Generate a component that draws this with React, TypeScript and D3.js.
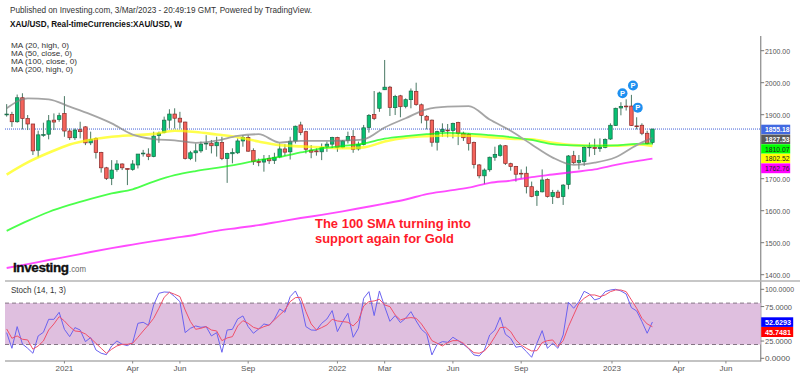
import React from "react";
import * as d3 from "d3";

const W = 800, H = 376;

// weekly candles, first week index 0 = 19 Oct 2020
const opens = [1900,1901,1878,1953,1888,1871,1789,1836,1839,1883,1885,1904,1849,1828,1853,1862,1812,1826,1782,1734,1701,1729,1746,1732,1729,1743,1778,1777,1769,1835,1845,1883,1902,1889,1877,1763,1781,1787,1809,1811,1803,1813,1763,1778,1781,1818,1829,1788,1754,
1752,1763,1757,1768,1793,1784,1818,1868,1847,1789,1787,1784,1800,1808,1829,1798,1819,1832,1793,1807,1860,1901,1920,1978,1986,1922,1959,1926,1947,1973,1931,1895,1883,1814,1847,1852,1851,1876,1842,1839,1813,1743,1709,1728,1767,1773,1803,1747,1738,1717,1717,
1675,1648,1659,1698,1644,1658,1644,1682,1772,1751,1753,1797,1798,1794,1798,1824,1866,1921,1927,1927,1865,1867,1842,1813];
const closes = [1902,1878,1953,1888,1871,1787,1837,1838,1881,1877,1897,1849,1828,1852,1847,1812,1823,1782,1734,1701,1727,1746,1734,1729,1746,1777,1780,1769,1833,1842,1883,1902,1889,1877,1763,1781,1787,1808,1811,1803,1813,1763,1779,1782,1818,1829,1786,1753,1751,
1760,1756,1767,1793,1783,1817,1864,1844,1792,1783,1784,1798,1808,1829,1798,1818,1832,1792,1807,1859,1898,1888,1968,1986,1923,1957,1925,1947,1974,1932,1898,1883,1814,1847,1854,1850,1873,1842,1828,1810,1744,1709,1727,1767,1776,1803,1748,1738,1714,1715,1675,
1644,1660,1696,1644,1657,1642,1680,1771,1750,1757,1798,1799,1794,1799,1823,1867,1920,1926,1925,1866,1863,1842,1810,1855];
const highs = [1933,1909,1963,1967,1899,1871,1850,1875,1899,1904,1906,1958,1857,1857,1878,1864,1847,1829,1784,1737,1758,1758,1748,1732,1758,1777,1790,1795,1847,1847,1894,1917,1920,1909,1878,1787,1810,1816,1836,1821,1831,1831,1781,1795,1826,1836,1836,1795,1763,
1774,1774,1781,1810,1808,1831,1866,1878,1850,1805,1795,1810,1816,1831,1831,1821,1847,1852,1816,1868,1902,1974,1972,2071,1990,1962,1962,1951,1982,2000,1935,1899,1885,1850,1873,1871,1875,1878,1847,1842,1816,1746,1732,1769,1800,1808,1805,1750,1740,1729,1738,
1691,1665,1729,1701,1665,1665,1683,1774,1787,1774,1802,1813,1825,1826,1826,1873,1922,1939,1948,1962,1892,1873,1850,1856];
const lows = [1894,1862,1875,1854,1852,1774,1767,1831,1823,1852,1878,1831,1821,1821,1826,1805,1805,1763,1719,1696,1680,1722,1727,1680,1725,1732,1769,1758,1767,1812,1842,1857,1857,1857,1760,1758,1753,1781,1790,1779,1769,1758,1687,1748,1777,1800,1784,1743,1739,
1722,1746,1746,1764,1772,1760,1810,1836,1779,1764,1772,1758,1784,1795,1784,1795,1810,1781,1788,1804,1844,1883,1909,1977,1896,1899,1892,1920,1920,1928,1873,1854,1800,1788,1831,1829,1826,1805,1818,1788,1732,1701,1683,1722,1756,1769,1743,1725,1691,1701,1654,
1642,1615,1657,1641,1621,1639,1618,1667,1746,1729,1740,1769,1774,1784,1795,1821,1865,1898,1913,1865,1854,1836,1807,1807];

// moving averages, read every fourth week
const maWeeks = [0,4,8,12,16,20,24,28,32,36,40,44,48,52,56,60,64,68,72,76,80,84,88,92,96,100,104,108,112,116,120,123];
const ma20 = [1920,1951,1948,1925,1901,1873,1838,1824,1820,1812,1819,1834,1839,1813,1818,1818,1819,1823,1860,1889,1917,1925,1927,1885,1850,1807,1766,1743,1750,1767,1805,1827.53];
const ma50 = [1713,1751,1781,1807,1822,1831,1836,1840,1850,1846,1838,1830,1816,1805,1801,1798,1795,1798,1816,1828,1833,1835,1834,1830,1825,1823,1812,1805,1803,1803,1807,1802.52];
const ma100 = [1537,1568,1596,1618,1637,1654,1667,1691,1711,1724,1734,1745,1758,1768,1782,1795,1802,1810,1825,1833,1839,1843,1841,1836,1830,1821,1808,1804,1803,1804,1809,1810.07];
const ma200 = [1421,1433,1446,1458,1471,1483,1494,1505,1515,1525,1537,1546,1555,1566,1577,1587,1598,1610,1622,1635,1652,1662,1672,1687,1694,1705,1713,1721,1729,1743,1755,1762.76];

const stochK = [37.2,14.5,45.9,20.8,14.5,7.3,32.4,37.7,56.5,56.5,66.7,42,31.4,44.5,41,24.2,30,12.1,7.3,5.3,17.9,25.1,20.3,18.4,22.7,50.7,52.2,47.8,77.3,94.2,96.1,95.7,89.4,82.1,37.2,43.5,46.9,44.9,45.9,32.4,37.2,8.7,41,42,57,61.4,45.9,36.3,42.5,49.8,47.8,
57,71.5,66.7,89.4,97.6,81.2,45.9,41,40.6,50.7,57,69.1,38.7,53.2,65.2,30.5,43.5,87,96.6,61.9,97.6,74.9,53.6,61.9,51.7,58,67.6,54.1,42,35.3,4.9,20.3,24.2,23.2,30.5,25.6,20.3,14,4.9,3.4,12.1,33.8,41,59.4,34.8,29,16,17.4,9.7,1.5,21.8,
40.1,14.5,21.8,14.5,33.8,81.2,72.5,82.1,97.1,93.2,84.6,87,96.6,99,100,97.6,93.2,73.4,68.6,53.2,36.3,52.63];
const stochD = [42.5,29,32.4,27.6,26.6,13.1,17.9,25.1,41,49.8,60.4,54.1,45.9,39.6,38.7,35.3,29,21.8,14.5,7.3,13.1,17.9,20.3,20.3,21.8,30.5,39.6,48.3,58,72.5,88.4,95.7,92.8,89.4,70,53.2,42,43.5,45.9,41,39.6,25.6,29.5,31.4,46.9,54.6,50.7,44.9,42.5,45.9,48.3,
55.6,62.8,70,82.1,87.9,88.4,67.6,49.8,41,44.5,48.3,56.5,54.1,53.2,52.2,46.9,54.6,75.9,82.1,83.1,85.5,77.3,74.9,62.8,55.6,58,59,58,49.8,38.7,25.6,21.8,17.9,22.7,25.6,25.6,21.8,14.5,8.2,7.3,10.6,19.3,31.4,44.5,45,38.7,26.6,19.3,14.5,10.6,11.1,
22.7,25.6,26.6,16.9,25.6,45.9,62.8,79.7,87,91.8,91.8,89.4,91.8,96.6,99,99,96.6,84.6,72.5,58,49.8,45.75];

// 1800.00 is covered by the last-value tags in the reference
const priceTicks = [2100,2000,1900,1700,1600,1500,1400];
const stochTicks = [100,75,25,0];
const dateTicks: [number,string][] = [[11,"2021"],[24,"Apr"],[33,"Jun"],[46,"Sep"],[63,"2022"],[72,"Mar"],[85,"Jun"],[98,"Sep"],[115.3,"2023"],[128,"Apr"],[137,"Jun"]];
const pricePins: [number,number][] = [[117.3,1967],[119.3,1991],[120.2,1922]];
const maLegend = ["MA (20, high, 0)","MA (50, close, 0)","MA (100, close, 0)","MA (200, high, 0)"];
const maLegendWidths = [58,61,66,62];
const maLegendBase = [47.5,55.8,64,72.4];
const priceTags: [string,number,number,string,string][] = [
  ["1855.18",124.7,9.6,"#4169e1","#fff"],
  ["1827.53",134.6,9.4,"#5a5a5a","#fff"],
  ["1810.07",144.2,9.4,"#00ff00","#222"],
  ["1802.52",153.8,9.4,"#ffff00","#222"],
  ["1762.76",163.4,9.8,"#ff00ff","#222"],
];
const stochTags: [string,number,number,string][] = [["52.6293",317.3,9.6,"#0000ff"],["45.7481",327,10,"#ff0000"]];

const FONT = "'Liberation Sans', Arial, sans-serif";
const axisX = 760.7;

const x = d3.scaleLinear().domain([0,123]).range([6.67,652.42]);
const y = d3.scaleLinear().domain([2100,1400]).range([50.7,274.7]);
const ys = d3.scaleLinear().domain([100,0]).range([289.3,358.3]);

const maLine = d3.line<number>().x((_,i)=>x(maWeeks[i])).y(d=>y(d)).curve(d3.curveMonotoneX);
const stLine = d3.line<number>().x((_,i)=>x(i)).y(d=>ys(d));

export default function App() {
  return (
    <svg width={W} height={H} viewBox={`0 0 ${W} ${H}`} style={{position:"absolute",left:0,top:0,background:"#fff"}} fontFamily={FONT}>
      <text x={10} y={13} fontSize={9} fill="#333" textLength={302} lengthAdjust="spacingAndGlyphs">Published on Investing.com, 3/Mar/2023 - 20:49:19 GMT, Powered by TradingView.</text>
      <text x={10} y={27} fontSize={9} fontWeight="bold" fill="#111" textLength={172} lengthAdjust="spacingAndGlyphs">XAU/USD, Real-timeCurrencies:XAU/USD, W</text>
      {maLegend.map((t,i)=>(
        <text key={t} x={11} y={maLegendBase[i]} fontSize={7.2} fill="#333" textLength={maLegendWidths[i]} lengthAdjust="spacingAndGlyphs">{t}</text>
      ))}

      {/* price axis */}
      <line x1={axisX} x2={axisX} y1={36} y2={361.5} stroke="#999" strokeWidth={1.4}/>
      {priceTicks.map(t=>(
        <g key={t}>
          <line x1={axisX} x2={axisX+3.5} y1={y(t)} y2={y(t)} stroke="#777" strokeWidth={1}/>
          <text x={765} y={y(t)+3} fontSize={8} fill="#555" textLength={25} lengthAdjust="spacingAndGlyphs">{t.toFixed(2)}</text>
        </g>
      ))}

      <line x1={5} x2={axisX} y1={y(1855.18)} y2={y(1855.18)} stroke="#3f5fd8" strokeWidth={1} strokeDasharray="1 1"/>

      {/* candles */}
      {opens.map((o,i)=>{
        const c = closes[i];
        const up = c>=o;
        const top = y(Math.max(o,c)), bot = y(Math.min(o,c));
        return (
          <g key={i}>
            <line x1={x(i)} x2={x(i)} y1={y(highs[i])} y2={y(lows[i])} stroke="#4a7864" strokeWidth={1}/>
            <rect x={x(i)-1.75} width={3.5} y={top} height={Math.max(bot-top,0.8)}
              fill={up?"#07c072":"#f4635b"} stroke={up?"#1a6a48":"#8c2a2a"} strokeWidth={0.7}/>
          </g>
        );
      })}

      {/* moving averages */}
      <g opacity={0.7} fill="none">
        <path d={maLine(ma200)!} stroke="#ff00ff" strokeWidth={1.9}/>
        <path d={maLine(ma50)!} stroke="#ffff00" strokeWidth={2.6}/>
        <path d={maLine(ma100)!} stroke="#00ff00" strokeWidth={1.8}/>
        <path d={maLine(ma20)!} stroke="#808080" strokeWidth={1.8}/>
      </g>

      {pricePins.map(([wk,p],i)=>(
        <g key={i}>
          <circle cx={x(wk)} cy={y(p)} r={5} fill="#1e90f0"/>
          <text x={x(wk)} y={y(p)+2.7} fontSize={7.5} fontWeight="bold" fill="#fff" textAnchor="middle">P</text>
        </g>
      ))}

      {priceTags.map(([t,top,h,bg,fg])=>(
        <g key={t}>
          <rect x={axisX+0.5} y={top} width={29} height={h} fill={bg}/>
          <text x={765} y={top+h/2+2.8} fontSize={7.5} fontWeight={fg==="#fff"?"bold":"normal"} fill={fg} textLength={24.5} lengthAdjust="spacingAndGlyphs">{t}</text>
        </g>
      ))}

      <text x={315} y={228} fontSize={13} fontWeight="bold" fill="#ff1a2a" textLength={156} lengthAdjust="spacingAndGlyphs">The 100 SMA turning into</text>
      <text x={315} y={243} fontSize={13} fontWeight="bold" fill="#ff1a2a" textLength={139} lengthAdjust="spacingAndGlyphs">support again for Gold</text>

      <text x={13} y={272} fontSize={13.5} fontWeight="bold" fill="#111" stroke="#111" strokeWidth={0.35} letterSpacing={-0.4}>Investing</text>
      <text x={69} y={272} fontSize={9} fill="#666" textLength={17} lengthAdjust="spacingAndGlyphs">.com</text>

      {/* stochastic pane */}
      <line x1={5} x2={W} y1={281} y2={281} stroke="#b5b5b5" strokeWidth={1.6}/>
      <text x={11} y={293} fontSize={8.5} fill="#333" textLength={55} lengthAdjust="spacingAndGlyphs">Stoch (14, 1, 3)</text>
      <rect x={5} y={ys(80)} width={axisX-5} height={ys(20)-ys(80)} fill="#dfbfdf"/>
      <line x1={5} x2={axisX} y1={ys(80)} y2={ys(80)} stroke="#857585" strokeWidth={1} strokeDasharray="4 3"/>
      <line x1={5} x2={axisX} y1={ys(20)} y2={ys(20)} stroke="#857585" strokeWidth={1} strokeDasharray="4 3"/>
      <path d={stLine(stochK)!} fill="none" stroke="#6a62f0" strokeWidth={1}/>
      <path d={stLine(stochD)!} fill="none" stroke="#f0506a" strokeWidth={1}/>
      <line x1={5} x2={axisX} y1={361} y2={361} stroke="#888" strokeWidth={1.2}/>
      {stochTicks.map(t=>(
        <g key={t}>
          <line x1={axisX} x2={axisX+3.5} y1={ys(t)} y2={ys(t)} stroke="#777" strokeWidth={1}/>
          <text x={765} y={ys(t)+3} fontSize={8} fill="#555" textLength={t===100?29:t===0?25:27} lengthAdjust="spacingAndGlyphs">{t.toFixed(4)}</text>
        </g>
      ))}
      {stochTags.map(([t,top,h,bg])=>(
        <g key={t}>
          <rect x={axisX+0.5} y={top} width={32} height={h} fill={bg}/>
          <text x={765} y={top+h/2+2.8} fontSize={7.5} fontWeight="bold" fill="#fff" textLength={26} lengthAdjust="spacingAndGlyphs">{t}</text>
        </g>
      ))}
      {dateTicks.map(([wk,l])=>(
        <g key={l+wk}>
          <line x1={x(wk)} x2={x(wk)} y1={361} y2={363.5} stroke="#888" strokeWidth={1}/>
          <text x={x(wk)} y={371} fontSize={8} fill="#555" textAnchor="middle">{l}</text>
        </g>
      ))}
    </svg>
  );
}
